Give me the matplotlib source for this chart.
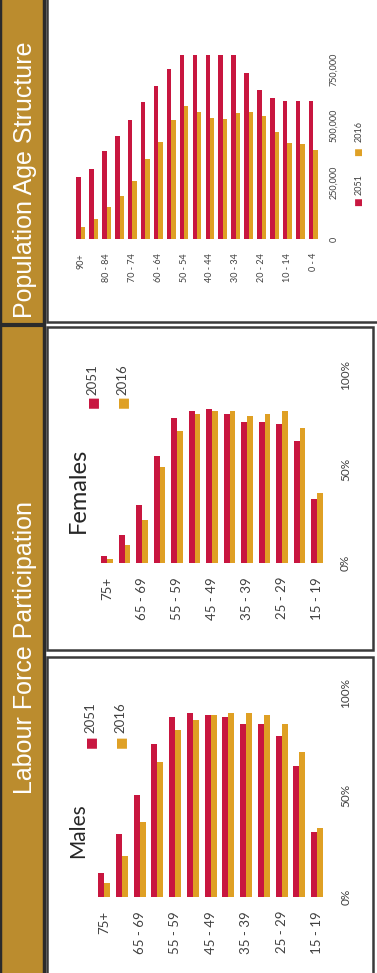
import matplotlib
matplotlib.use('Agg')
import matplotlib.pyplot as plt
from matplotlib.patches import Rectangle
import numpy as np

#%% Data
lfp_groups = ['75+', '70 - 74', '65 - 69', '60 - 64', '55 - 59', '50 - 54', '45 - 49',
              '40 - 44', '35 - 39', '30 - 34', '25 - 29', '20 - 24', '15 - 19']
males_2051 = [12, 31, 50, 75, 88, 90, 89, 88, 85, 85, 79, 64, 32]
males_2016 = [7, 20, 37, 66, 82, 87, 89, 90, 90, 89, 85, 71, 34]
females_2051 = [3.7, 15, 31, 57, 77, 81, 82, 79, 75, 75, 74, 65, 34]
females_2016 = [2, 9.6, 23, 51, 70, 79, 81, 81, 78, 79, 81, 72, 37]

pop_groups = ['90+', '85 - 89', '80 - 84', '75 - 79', '70 - 74', '65 - 69', '60 - 64',
              '55 - 59', '50 - 54', '45 - 49', '40 - 44', '35 - 39', '30 - 34',
              '25 - 29', '20 - 24', '15 - 19', '10 - 14', '5 - 9', '0 - 4']
pop_2051 = [272000, 309000, 390000, 456000, 525000, 603000, 676000, 750000, 809000,
            813000, 813000, 813000, 813000, 731000, 657000, 622000, 610000, 607000, 607000]
pop_2016 = [51000, 88000, 140000, 191000, 257000, 353000, 426000, 525000, 588000,
            559000, 532000, 529000, 554000, 562000, 544000, 471000, 422000, 419000, 393000]

lfp_ticks = [0, 50, 100]
lfp_ticklabels = ['0%', '50%', '100%']
pop_ticks = [0, 250000, 500000, 750000]
pop_ticklabels = ['0', '250,000', '500,000', '750,000']

RED = '#C8163F'
GOLD = '#DFA024'
BAR = '#BB8C2E'
TXT = '#404040'

W, H = 377, 973
plt.rcParams['font.family'] = ['Lato', 'DejaVu Sans']

fig = plt.figure(figsize=(W / 100, H / 100), dpi=100)


def px_box(x0, x1, ytop, ybot):
    # pixel box (y measured from top) -> figure fraction
    return [x0 / W, 1 - ybot / H, (x1 - x0) / W, (ybot - ytop) / H]


def fx(x):
    return x / W


def fy(y):
    return 1 - y / H


# frames and title bar
bg = fig.add_axes([0, 0, 1, 1])
bg.set_xlim(0, W)
bg.set_ylim(H, 0)
bg.axis('off')
bg.add_patch(Rectangle((0, -5), 44, H + 10, facecolor=BAR, edgecolor='#2b2b2b', lw=2.5))
bg.plot([0, 44], [324.5, 324.5], color='#2b2b2b', lw=3)
bg.add_patch(Rectangle((47, -5), W + 5 - 47, 327, facecolor='white', edgecolor='#3a3a3a', lw=1.8))
bg.add_patch(Rectangle((47, 327), 326, 323, facecolor='white', edgecolor='#3a3a3a', lw=1.8))
bg.add_patch(Rectangle((47, 657), 326, 330, facecolor='white', edgecolor='#3a3a3a', lw=1.8))

fig.text(fx(25), fy(180), 'Population Age Structure', rotation=90, color='white',
         fontsize=18, family=['Liberation Sans', 'DejaVu Sans'],
         ha='center', va='center')
fig.text(fx(25), fy(648), 'Labour Force Participation', rotation=90, color='white',
         fontsize=18, family=['Liberation Sans', 'DejaVu Sans'],
         ha='center', va='center')


def bar_panel(rect, cats, v51, v16, ticks, ticklabels, ymax, every, tfs, cfs, tpad, cpad):
    ax = fig.add_axes(rect)
    x = np.arange(len(cats))
    w = 0.34
    ax.bar(x - w / 2, v51, w, color=RED)
    ax.bar(x + w / 2, v16, w, color=GOLD)
    ax.set_xlim(-0.6, len(cats) - 0.4)
    ax.set_ylim(0, ymax)
    ax.set_xticks(x)
    ax.set_xticklabels([c if i % every == 0 else '' for i, c in enumerate(cats)],
                       rotation=90, fontsize=cfs, color=TXT, va='top')
    ax.yaxis.tick_right()
    ax.set_yticks(ticks)
    ax.set_yticklabels(ticklabels, rotation=90, fontsize=tfs, color=TXT, va='center')
    ax.tick_params(axis='y', length=0, pad=tpad)
    ax.tick_params(axis='x', length=0, pad=cpad)
    for s in ax.spines.values():
        s.set_visible(False)
    ax.set_facecolor('none')
    return ax


# Population
bar_panel(px_box(73, 321, 239 - 192.8, 239), pop_groups, pop_2051, pop_2016,
          pop_ticks, pop_ticklabels, 850000, 2, 6.5, 6.5, 6, 10)
# Females
bar_panel(px_box(96.5, 327.5, 375, 563), lfp_groups, females_2051, females_2016,
          lfp_ticks, lfp_ticklabels, 100, 2, 8.5, 9.5, 9, 10)
# Males
bar_panel(px_box(93.4, 327.7, 693, 897), lfp_groups, males_2051, males_2016,
          lfp_ticks, lfp_ticklabels, 100, 2, 8.5, 9.5, 9, 10)

# panel titles
fig.text(fx(78), fy(490), 'Females', rotation=90, fontsize=17, color='#262626',
         ha='center', va='center')
fig.text(fx(78), fy(831), 'Males', rotation=90, fontsize=15, color='#262626',
         ha='center', va='center')


# legends (rotated, drawn by hand)
def legend(x_red, x_gold, y_sq, y_txt, fs):
    for xx, col, lab in [(x_red, RED, '2051'), (x_gold, GOLD, '2016')]:
        fig.text(fx(xx), fy(y_sq), '\u25a0', rotation=90, color=col, fontsize=fs,
                 ha='center', va='center', family='DejaVu Sans')
        fig.text(fx(xx), fy(y_txt), lab, rotation=90, color=TXT, fontsize=fs,
                 ha='center', va='center')


legend(92, 122, 402, 380, 9.5)
legend(90, 120, 742, 718, 9.5)
# population legend is one row
fig.text(fx(359), fy(202), '\u25a0', rotation=90, color=RED, fontsize=6.5,
         ha='center', va='center', family='DejaVu Sans')
fig.text(fx(359), fy(185), '2051', rotation=90, color=TXT, fontsize=6.5,
         ha='center', va='center')
fig.text(fx(359), fy(152), '\u25a0', rotation=90, color=GOLD, fontsize=6.5,
         ha='center', va='center', family='DejaVu Sans')
fig.text(fx(359), fy(132), '2016', rotation=90, color=TXT, fontsize=6.5,
         ha='center', va='center')

fig.savefig('out.png', dpi=100)
